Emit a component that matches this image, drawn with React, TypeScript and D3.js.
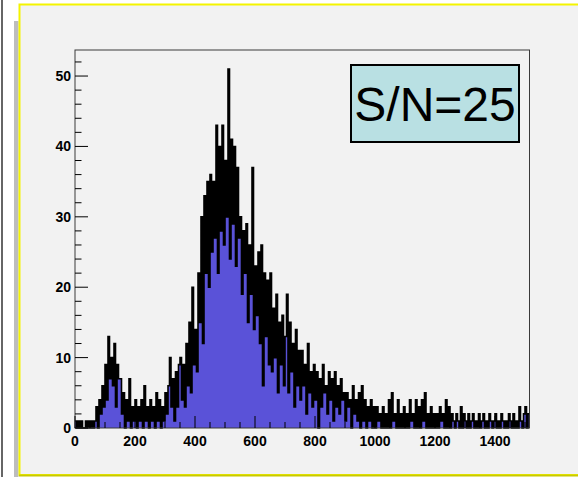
import React from "react";
import * as d3 from "d3";

// Histogram: bins of width 5 starting at 0 (x range 0..1515)
const BIN_WIDTH = 5;
const X_MAX = 1515;
const Y_MAX = 53.7;
const counts: number[] = [
  // 0-45
  1, 0, 1, 0, 1, 0, 0, 1, 0, 1,
  // 50-95
  0, 1, 0, 1, 3, 0, 4, 2, 6, 3,
  // 100-145
  9, 4, 13, 7, 10, 6, 12, 3, 9, 7,
  // 150-195
  7, 2, 5, 0, 4, 1, 7, 0, 3, 1,
  // 200-245
  4, 0, 3, 1, 4, 0, 6, 1, 3, 0,
  // 250-295
  4, 1, 3, 0, 5, 1, 4, 0, 3, 1,
  // 300-345
  5, 2, 6, 10, 3, 7, 1, 8, 3, 9,
  // 350-395
  10, 4, 9, 3, 12, 6, 15, 5, 20, 9,
  // 400-445
  14, 8, 22, 15, 30, 12, 33, 22, 35, 20,
  // 450-495
  36, 25, 35, 27, 43, 22, 40, 28, 43, 26,
  // 500-545
  38, 30, 51, 24, 41, 29, 40, 23, 37, 27,
  // 550-595
  30, 19, 28, 22, 29, 15, 26, 19, 37, 14,
  // 600-645
  23, 16, 25, 12, 26, 6, 22, 13, 21, 9,
  // 650-695
  22, 8, 17, 10, 19, 5, 15, 9, 16, 6,
  // 700-745
  13, 19, 5, 15, 8, 12, 3, 14, 6, 11,
  // 750-795
  4, 11, 6, 9, 2, 12, 5, 8, 3, 9,
  // 800-845
  4, 8, 0, 7, 3, 9, 5, 6, 2, 8,
  // 850-895
  4, 7, 1, 8, 3, 6, 2, 7, 4, 5,
  // 900-945
  1, 5, 3, 4, 0, 6, 2, 4, 1, 5,
  // 950-995
  0, 6, 1, 4, 0, 3, 1, 4, 0, 3,
  // 1000-1045
  0, 3, 1, 2, 0, 3, 0, 2, 0, 4,
  // 1050-1095
  0, 5, 1, 2, 0, 4, 0, 2, 0, 3,
  // 1100-1145
  0, 2, 0, 4, 1, 2, 0, 4, 0, 3,
  // 1150-1195
  0, 4, 1, 5, 0, 2, 0, 3, 0, 2,
  // 1200-1245
  0, 2, 0, 3, 1, 2, 0, 4, 0, 3,
  // 1250-1295
  0, 2, 1, 0, 2, 1, 0, 3, 0, 2,
  // 1300-1345
  1, 0, 2, 0, 1, 2, 0, 1, 0, 2,
  // 1350-1395
  0, 1, 2, 0, 1, 0, 2, 1, 0, 1,
  // 1400-1445
  2, 0, 1, 0, 2, 1, 0, 1, 0, 2,
  // 1450-1495
  1, 0, 2, 0, 1, 0, 3, 1, 0, 2,
  // 1500-1510
  3, 0, 2,
];

const xMajorTicks = [0, 200, 400, 600, 800, 1000, 1200, 1400];
const yMajorTicks = [0, 10, 20, 30, 40, 50];
const labelText = "S/N=25";

export default function App() {
  const left = 75, right = 529.5, top = 50, bottom = 428;
  const x = d3.scaleLinear().domain([0, X_MAX]).range([left, right]);
  const y = d3.scaleLinear().domain([0, Y_MAX]).range([bottom, top]);

  const pts: [number, number][] = counts.map((c, i) => [i * BIN_WIDTH, c]);
  pts.push([counts.length * BIN_WIDTH, counts[counts.length - 1]]);

  const area = d3
    .area<[number, number]>()
    .x((d) => x(d[0]))
    .y0(y(0))
    .y1((d) => y(d[1]))
    .curve(d3.curveStepAfter);
  const line = d3
    .line<[number, number]>()
    .x((d) => x(d[0]))
    .y((d) => y(d[1]))
    .curve(d3.curveStepAfter);

  const xMinor = d3.range(0, X_MAX + 1, 50).filter((v) => v % 200 !== 0);
  const yMinor = d3.range(0, Y_MAX, 2).filter((v) => v % 10 !== 0);

  const font = "'Liberation Sans', Arial, Helvetica, sans-serif";

  return (
    <svg
      width={578}
      height={477}
      style={{ position: "absolute", left: 0, top: 0, display: "block" }}
    >
      <rect x={0} y={0} width={578} height={477} fill="#ffffff" />
      <line x1={2} y1={0} x2={2} y2={477} stroke="#333" strokeWidth={1.5} />
      <rect x={14} y={21} width={4.5} height={456} fill="#bdbdbd" />
      {/* panel */}
      <rect x={19.5} y={4.5} width={570} height={470.5} fill="#f2f2f2" stroke="#f4f400" strokeWidth={2} />
      <line x1={19} y1={475.5} x2={578} y2={475.5} stroke="#c9c900" strokeWidth={2} />

      {/* histogram */}
      <path d={area(pts) || ""} fill="#5a52d8" />
      <path d={line(pts) || ""} fill="none" stroke="#000" strokeWidth={1.6} />

      {/* frame */}
      <rect x={left} y={top} width={right - left} height={bottom - top} fill="none" stroke="#3a3a3a" strokeWidth={1} />

      {/* y ticks */}
      {yMajorTicks.map((t) => (
        <g key={"ym" + t}>
          <line x1={left} x2={left + 13} y1={y(t)} y2={y(t)} stroke="#000" strokeWidth={1} />
          <text
            x={71}
            y={y(t)}
            dy="0.35em"
            textAnchor="end"
            fontFamily={font}
            fontWeight="bold"
            fontSize={14}
            fill="#000"
          >
            {t}
          </text>
        </g>
      ))}
      {yMinor.map((t) => (
        <line key={"yn" + t} x1={left} x2={left + 6.5} y1={y(t)} y2={y(t)} stroke="#000" strokeWidth={1} />
      ))}

      {/* x ticks */}
      {xMajorTicks.map((t) => (
        <g key={"xm" + t}>
          <line x1={x(t)} x2={x(t)} y1={bottom} y2={bottom - 12} stroke="#000" strokeWidth={1} />
          <text
            x={x(t)}
            y={446}
            textAnchor="middle"
            fontFamily={font}
            fontWeight="bold"
            fontSize={14}
            fill="#000"
          >
            {t}
          </text>
        </g>
      ))}
      {xMinor.map((t) => (
        <line key={"xn" + t} x1={x(t)} x2={x(t)} y1={bottom} y2={bottom - 6} stroke="#000" strokeWidth={1} />
      ))}

      {/* label box */}
      <rect x={351} y={65} width={168} height={77} fill="#b9e0e3" stroke="#000" strokeWidth={2} />
      <text
        x={435}
        y={121}
        textAnchor="middle"
        fontFamily={font}
        fontSize={48}
        fill="#000"
      >
        {labelText}
      </text>
    </svg>
  );
}
